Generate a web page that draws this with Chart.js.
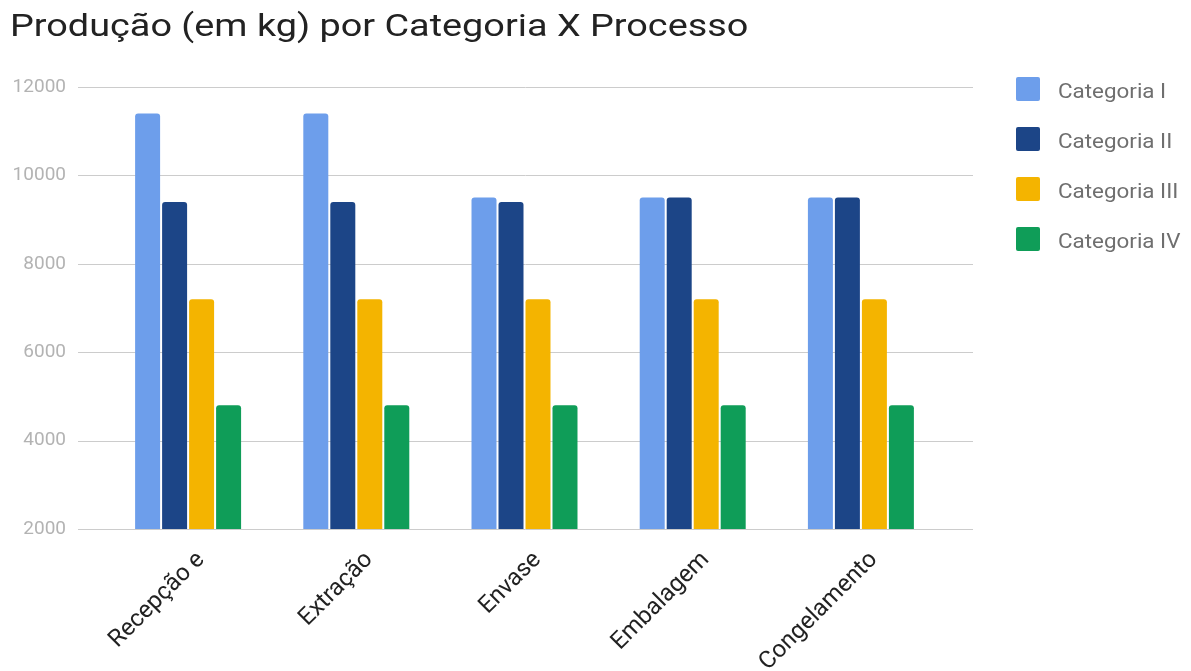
<!DOCTYPE html>
<html lang="pt-BR">
<head>
<meta charset="utf-8">
<title>Produção (em kg) por Categoria X Processo</title>
<script src="https://cdn.jsdelivr.net/npm/chart.js@4.4.1/dist/chart.umd.min.js"></script>
<style>
  html, body { margin: 0; padding: 0; background: #fff; }
  #wrap { width: 1191px; height: 671px; overflow: hidden; }
</style>
</head>
<body>
<div id="wrap"><canvas id="grafico" width="1191" height="671"></canvas></div>
<script>
// dados do gráfico
const titulo = 'Produção (em kg) por Categoria X Processo';
const processos = ['Recepção e', 'Extração', 'Envase', 'Embalagem', 'Congelamento'];
const categorias = ['Categoria I', 'Categoria II', 'Categoria III', 'Categoria IV'];
const categoriaI = [11400, 11400, 9500, 9500, 9500];
const categoriaII = [9400, 9400, 9400, 9500, 9500];
const categoriaIII = [7200, 7200, 7200, 7200, 7200];
const categoriaIV = [4800, 4800, 4800, 4800, 4800];
const ticksY = [2000, 4000, 6000, 8000, 10000, 12000];
const cores = ['#6d9eeb', '#1c4587', '#f4b400', '#0f9d58'];

const FONTE = 'Roboto, "Noto Sans", Arial, sans-serif';

// título com a fonte um pouco mais larga
const tituloLargo = {
    id: 'tituloLargo',
    afterDraw(chart) {
        const { ctx } = chart;
        ctx.save();
        ctx.font = '31px ' + FONTE;
        ctx.fillStyle = '#222222';
        ctx.textBaseline = 'alphabetic';
        ctx.translate(10, 36);
        ctx.scale(1.22, 1);
        ctx.fillText(titulo, 0, 0);
        ctx.restore();
    }
};

// linhas de grade horizontais (passam um pouco além da área das barras)
const gradeY = {
    id: 'gradeY',
    beforeDatasetsDraw(chart) {
        const { ctx, chartArea, scales } = chart;
        ctx.save();
        ctx.strokeStyle = '#cccccc';
        ctx.lineWidth = 1;
        scales.y.ticks.forEach(t => {
            const y = Math.round(scales.y.getPixelForValue(t.value)) + 0.5;
            ctx.beginPath();
            ctx.moveTo(chartArea.left - 26, y);
            ctx.lineTo(chartArea.right + 28, y);
            ctx.stroke();
        });
        ctx.restore();
    }
};

// legenda à direita
const legendaDireita = {
    id: 'legendaDireita',
    afterDraw(chart) {
        const { ctx } = chart;
        ctx.save();
        ctx.font = '20px ' + FONTE;
        ctx.textBaseline = 'alphabetic';
        ctx.textAlign = 'left';
        chart.data.datasets.forEach((ds, i) => {
            const y = 77 + i * 50;
            ctx.fillStyle = ds.backgroundColor;
            ctx.beginPath();
            ctx.roundRect(1016, y, 24, 24, 2);
            ctx.fill();
            ctx.fillStyle = '#6f6f6f';
            ctx.save();
            ctx.translate(1058, y + 21);
            ctx.scale(1.12, 1);
            ctx.fillText(ds.label, 0, 0);
            ctx.restore();
        });
        ctx.restore();
    }
};

const series = [categoriaI, categoriaII, categoriaIII, categoriaIV];

new Chart(document.getElementById('grafico'), {
    type: 'bar',
    data: {
        labels: processos,
        datasets: series.map((valores, i) => ({
            label: categorias[i],
            data: valores,
            backgroundColor: cores[i],
            borderRadius: 3,
            borderSkipped: 'bottom',
            categoryPercentage: 0.642,
            barPercentage: 0.926
        }))
    },
    options: {
        responsive: false,
        animation: false,
        devicePixelRatio: 1,
        layout: { padding: { left: 10, right: 246, top: 87, bottom: 0 } },
        plugins: {
            legend: { display: false },
            tooltip: { enabled: false },
            title: { display: false }
        },
        scales: {
            x: {
                grid: { display: false, drawTicks: false },
                border: { display: false },
                ticks: {
                    color: '#222222',
                    font: { family: FONTE, size: 24 },
                    minRotation: 45,
                    maxRotation: 45,
                    autoSkip: false,
                    padding: 17,
                    labelOffset: 13
                },
                afterFit(scale) { scale.height = 142; }
            },
            y: {
                min: ticksY[0],
                max: ticksY[ticksY.length - 1],
                grid: { display: false, drawTicks: false },
                border: { display: false },
                ticks: {
                    stepSize: ticksY[1] - ticksY[0],
                    color: '#b3b3b3',
                    font: { family: FONTE, size: 19 },
                    padding: 38,
                    callback: v => String(v)
                },
                afterFit(scale) { scale.width = 94; }
            }
        }
    },
    plugins: [gradeY, tituloLargo, legendaDireita]
});
</script>
</body>
</html>
